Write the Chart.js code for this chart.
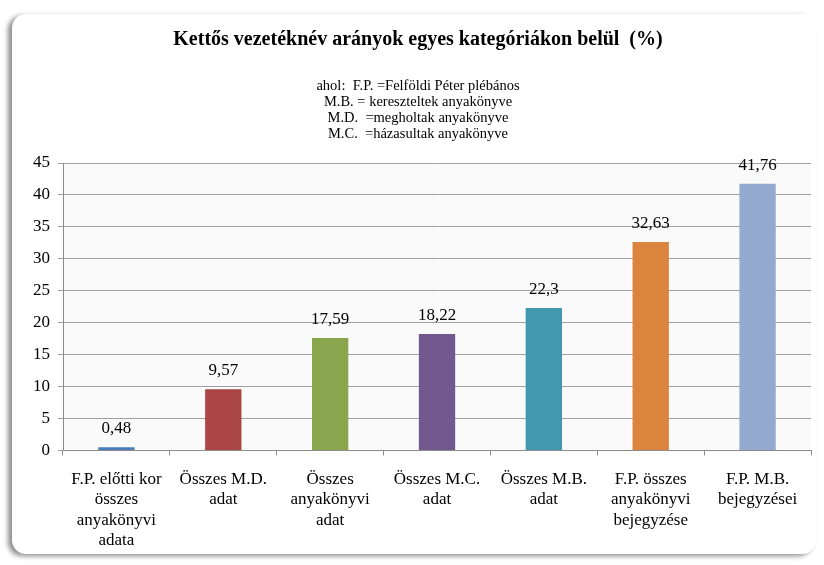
<!DOCTYPE html>
<html>
<head>
<meta charset="utf-8">
<script src="https://cdn.jsdelivr.net/npm/chart.js@4/dist/chart.umd.min.js"></script>
<style>
  html, body { margin: 0; padding: 0; background: #fff; }
  #frame {
    position: absolute; left: 12px; top: 14px; width: 804px; height: 540px;
    background: #fff; border-radius: 14px;
    box-shadow: -4px 2px 5px rgba(0,0,0,0.45);
  }
  #wrap { position: absolute; left: 0; top: 0; width: 824px; height: 565px; }
</style>
</head>
<body>
<div id="frame"></div>
<div id="wrap"><canvas id="myChart" width="824" height="565"></canvas></div>
<script>
// chart values
var categories = [
  ["F.P. előtti kor", "összes", "anyakönyvi", "adata"],
  ["Összes M.D.", "adat"],
  ["Összes", "anyakönyvi", "adat"],
  ["Összes M.C.", "adat"],
  ["Összes M.B.", "adat"],
  ["F.P. összes", "anyakönyvi", "bejegyzése"],
  ["F.P. M.B.", "bejegyzései"]
]
var values = [0.48, 9.57, 17.59, 18.22, 22.3, 32.63, 41.76]
var barColors = ["#4a7ebb", "#aa4643", "#89a54e", "#71588f", "#4198af", "#db843d", "#93a9cf"]
var yTicks = { min: 0, max: 45, step: 5 }
var titleText = "Kettős vezetéknév arányok egyes kategóriákon belül  (%)"
var subtitleLines = [
  "ahol:  F.P. =Felföldi Péter plébános",
  "M.B. = kereszteltek anyakönyve",
  "M.D.  =megholtak anyakönyve",
  "M.C.  =házasultak anyakönyve"
]

var serif = '"Liberation Serif", "DejaVu Serif", serif'

var plotBg = {//light grey plot area
  id: 'plotBg',
  beforeDraw: function (chart) {
    var a = chart.chartArea, ctx = chart.ctx
    ctx.save()
    ctx.fillStyle = '#fafafa'
    ctx.fillRect(a.left, a.top, a.right - a.left, a.bottom - a.top)
    ctx.restore()
  }
}

var valueLabels = {//numbers above the bars
  id: 'valueLabels',
  afterDatasetsDraw: function (chart) {
    var ctx = chart.ctx
    var meta = chart.getDatasetMeta(0)
    ctx.save()
    ctx.font = "17px " + serif
    ctx.fillStyle = '#000'
    ctx.textAlign = 'center'
    ctx.textBaseline = 'bottom'
    meta.data.forEach(function (bar, i) {
      ctx.fillText(String(values[i]).replace('.', ','), bar.x, bar.y - 10)
    })
    ctx.restore()
  }
}

function draw() {
  new Chart(document.getElementById("myChart"), {
    type: 'bar',
    data: {
      labels: categories,
      datasets: [{
        data: values,
        backgroundColor: barColors,
        borderWidth: 0,
        categoryPercentage: 1,
        barPercentage: 0.34
      }]
    },
    options: {
      responsive: false,
      animation: false,
      layout: { padding: { top: 28, left: 25, right: 13, bottom: 0 } },
      plugins: {
        legend: { display: false },
        tooltip: { enabled: false },
        title: {
          display: true,
          text: titleText,
          color: '#000',
          font: { family: serif, size: 20, weight: 'bold', lineHeight: 1.2 },
          padding: { top: 0, bottom: 26 }
        },
        subtitle: {
          display: true,
          text: subtitleLines,
          color: '#000',
          font: { family: serif, size: 14.5, lineHeight: 16 / 14.5 },
          padding: { top: 0, bottom: 21 }
        }
      },
      scales: {
        x: {
          offset: true,
          grid: { display: true, drawOnChartArea: false, offset: true, tickLength: 5, color: '#8c8c8c' },
          border: { color: '#8c8c8c' },
          ticks: { color: '#000', font: { family: serif, size: 17, lineHeight: 1.2 }, padding: 14, maxRotation: 0, autoSkip: false }
        },
        y: {
          min: yTicks.min,
          max: yTicks.max,
          grid: { color: '#a0a0a0', tickLength: 5 },
          border: { color: '#8c8c8c' },
          ticks: { stepSize: yTicks.step, color: '#000', font: { family: serif, size: 17 }, padding: 8 }
        }
      }
    },
    plugins: [plotBg, valueLabels]
  });
}

if (document.fonts && document.fonts.load) {
  document.fonts.load('17px "Liberation Serif"').then(draw, draw)
} else {
  draw()
}
</script>
</body>
</html>
